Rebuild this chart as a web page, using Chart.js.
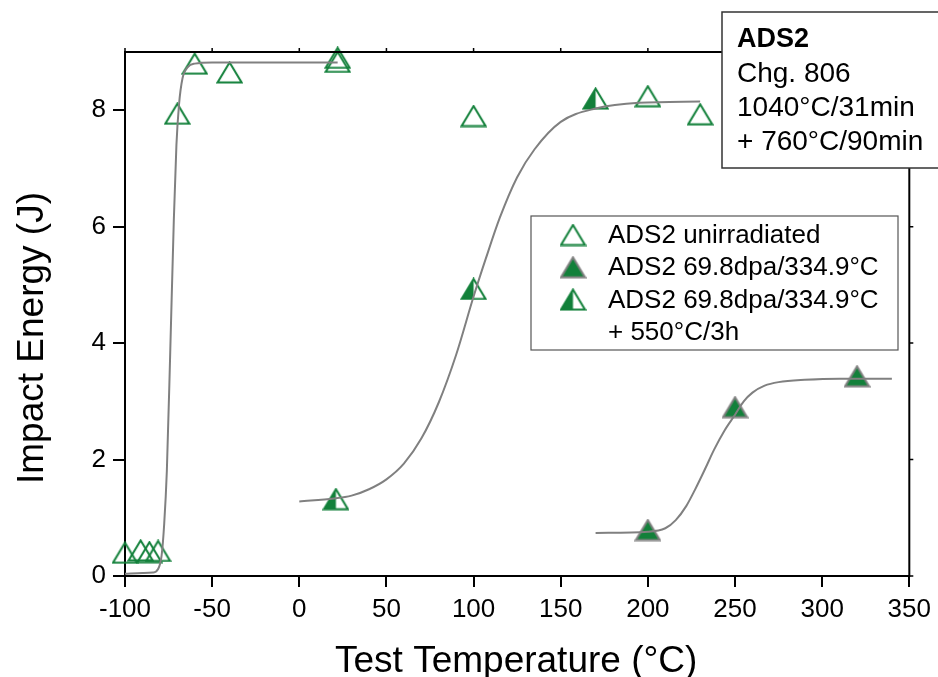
<!DOCTYPE html>
<html>
<head>
<meta charset="utf-8">
<script src="https://cdn.jsdelivr.net/npm/chart.js@4"></script>
<style>
  html, body { margin: 0; padding: 0; background: #fff; }
</style>
</head>
<body>
<canvas id="chart" width="938" height="677"></canvas>
<script>
// measured points (°C, J)
const unirrTemp = [-100, -91, -86, -81, -70, -60, -40, 22, 22, 100, 200, 230];
const unirrEnergy = [0.40, 0.44, 0.41, 0.43, 7.94, 8.8, 8.65, 8.9, 8.83, 7.9, 8.24, 7.93];

const irrTemp = [200, 250, 320];
const irrEnergy = [0.79, 2.9, 3.43];

const annealTemp = [21, 100, 170];
const annealEnergy = [1.32, 4.93, 8.2];

// fit curves
const fitUnirrTemp = [-100, -90, -84, -81, -79, -77.5, -76, -74, -72, -70.5, -69, -67, -64, -60, -50, -20, 22];
const fitUnirrEnergy = [0.04, 0.05, 0.06, 0.12, 0.35, 0.9, 1.8, 3.9, 6.1, 7.4, 8.1, 8.55, 8.74, 8.8, 8.82, 8.82, 8.82];

const fitAnnealTemp = [0, 20, 30, 40, 50, 60, 70, 80, 90, 100, 107, 115, 125, 135, 150, 170, 195, 230];
const fitAnnealEnergy = [1.28, 1.33, 1.38, 1.49, 1.66, 1.93, 2.36, 2.98, 3.8, 4.8, 5.45, 6.15, 6.85, 7.33, 7.8, 8.03, 8.13, 8.15];

const fitIrrTemp = [170, 200, 210, 216, 222, 227, 233, 238, 244, 250, 255, 260, 267, 275, 290, 310, 340];
const fitIrrEnergy = [0.74, 0.76, 0.82, 0.96, 1.2, 1.48, 1.85, 2.17, 2.5, 2.77, 3.0, 3.15, 3.27, 3.33, 3.37, 3.39, 3.39];

const seriesNames = [
  ["ADS2 unirradiated"],
  ["ADS2 69.8dpa/334.9°C"],
  ["ADS2 69.8dpa/334.9°C", "+ 550°C/3h"],
];
const noteLines = ["ADS2", "Chg. 806", "1040°C/31min", "+ 760°C/90min"];
const xTitle = "Test Temperature (°C)";
const yTitle = "Impact Energy (J)";

const GREEN = "#12803a";
const FIT_GRAY = "#808080";
const FONT = "'Liberation Sans', Arial, sans-serif";

function pairs(xs, ys) {
  return xs.map((x, i) => ({ x: x, y: ys[i] }));
}

function makeTriangle(kind) {
  const w = 27, h = 23;
  const c = document.createElement("canvas");
  c.width = w;
  c.height = h;
  const g = c.getContext("2d");
  const top = 1.5, base = h - 1.5, l = 1.5, r = w - 1.5, mid = w / 2;
  const outline = () => {
    g.beginPath();
    g.moveTo(mid, top);
    g.lineTo(r, base);
    g.lineTo(l, base);
    g.closePath();
  };
  if (kind === "filled") {
    outline();
    g.fillStyle = GREEN;
    g.fill();
    g.strokeStyle = FIT_GRAY;
    g.lineWidth = 2;
    g.stroke();
  } else if (kind === "half") {
    outline();
    g.fillStyle = "#fff";
    g.fill();
    g.beginPath();
    g.moveTo(mid, top);
    g.lineTo(mid, base);
    g.lineTo(l, base);
    g.closePath();
    g.fillStyle = GREEN;
    g.fill();
    outline();
    g.strokeStyle = GREEN;
    g.lineWidth = 2;
    g.stroke();
  } else {
    outline();
    g.strokeStyle = GREEN;
    g.lineWidth = 2;
    g.stroke();
  }
  return c;
}

const openTri = makeTriangle("open");
const filledTri = makeTriangle("filled");
const halfTri = makeTriangle("half");
const legendIcons = [openTri, filledTri, halfTri];

function fitLine(xs, ys) {
  return {
    data: pairs(xs, ys),
    showLine: true,
    borderColor: FIT_GRAY,
    borderWidth: 2,
    pointRadius: 0,
    cubicInterpolationMode: "monotone",
    order: 0,
  };
}

function markers(xs, ys, icon, name) {
  return {
    label: name.join(" "),
    data: pairs(xs, ys),
    pointStyle: icon,
    pointRadius: 12,
    order: 1,
    clip: false,
  };
}

// top/right frame with small outer ticks, plus axis titles
const framePlugin = {
  id: "frame",
  afterDraw(chart) {
    const { ctx, chartArea: a, scales } = chart;
    ctx.save();
    ctx.strokeStyle = "#000";
    ctx.lineWidth = 2;
    ctx.beginPath();
    ctx.moveTo(a.left - 1, a.top);
    ctx.lineTo(a.right, a.top);
    ctx.lineTo(a.right, a.bottom + 1);
    ctx.stroke();
    ctx.lineWidth = 1.5;
    ctx.beginPath();
    scales.x.ticks.forEach((t) => {
      const px = scales.x.getPixelForValue(t.value);
      ctx.moveTo(px, a.top);
      ctx.lineTo(px, a.top - 4);
    });
    scales.y.ticks.forEach((t) => {
      const py = scales.y.getPixelForValue(t.value);
      ctx.moveTo(a.right, py);
      ctx.lineTo(a.right + 4, py);
    });
    ctx.stroke();

    ctx.fillStyle = "#000";
    ctx.font = "37px " + FONT;
    ctx.textAlign = "center";
    ctx.textBaseline = "alphabetic";
    ctx.fillText(xTitle, (a.left + a.right) / 2 - 1, 672);
    ctx.translate(43, 338);
    ctx.rotate(-Math.PI / 2);
    ctx.fillText(yTitle, 0, 0);
    ctx.restore();
  },
};

const legendPlugin = {
  id: "boxLegend",
  afterDraw(chart) {
    const { ctx } = chart;
    const x0 = 531, y0 = 216, x1 = 898, y1 = 350;
    ctx.save();
    ctx.fillStyle = "#fff";
    ctx.fillRect(x0, y0, x1 - x0, y1 - y0);
    ctx.strokeStyle = "#555";
    ctx.lineWidth = 1.2;
    ctx.strokeRect(x0, y0, x1 - x0, y1 - y0);
    ctx.font = "26px " + FONT;
    ctx.fillStyle = "#000";
    ctx.textBaseline = "middle";
    let y = 235;
    seriesNames.forEach((lines, i) => {
      const icon = legendIcons[i];
      ctx.drawImage(icon, 573 - icon.width / 2, y - icon.height / 2);
      lines.forEach((line) => {
        ctx.fillText(line, 608, y + 1);
        y += 32.3;
      });
    });
    ctx.restore();
  },
};

const notePlugin = {
  id: "note",
  afterDraw(chart) {
    const { ctx } = chart;
    ctx.save();
    ctx.fillStyle = "#fff";
    ctx.fillRect(722, 12, 230, 156);
    ctx.strokeStyle = "#333";
    ctx.lineWidth = 1.5;
    ctx.strokeRect(722, 12, 230, 156);
    ctx.fillStyle = "#000";
    ctx.textBaseline = "middle";
    noteLines.forEach((line, i) => {
      ctx.font = (i === 0 ? "bold 27px " : "28px ") + FONT;
      ctx.fillText(line, 737, 40 + i * 34);
    });
    ctx.restore();
  },
};

const ctx = document.getElementById("chart");

new Chart(ctx, {
  type: "scatter",
  data: {
    datasets: [
      fitLine(fitUnirrTemp, fitUnirrEnergy),
      fitLine(fitAnnealTemp, fitAnnealEnergy),
      fitLine(fitIrrTemp, fitIrrEnergy),
      markers(unirrTemp, unirrEnergy, openTri, seriesNames[0]),
      markers(irrTemp, irrEnergy, filledTri, seriesNames[1]),
      markers(annealTemp, annealEnergy, halfTri, seriesNames[2]),
    ],
  },
  options: {
    responsive: false,
    animation: false,
    events: [],
    layout: {
      padding: { top: 52, right: 26, left: 0, bottom: 0 },
    },
    plugins: {
      legend: { display: false },
      tooltip: { enabled: false },
    },
    scales: {
      x: {
        type: "linear",
        min: -100,
        max: 350,
        afterFit(s) {
          s.height = 101;
        },
        border: { display: true, color: "#000", width: 2 },
        grid: {
          drawOnChartArea: false,
          drawTicks: true,
          tickLength: 11,
          tickColor: "#000",
          lineWidth: 2,
        },
        ticks: {
          stepSize: 50,
          color: "#000",
          padding: 7,
          maxRotation: 0,
          font: { family: FONT, size: 26 },
        },
      },
      y: {
        min: 0,
        max: 9,
        afterFit(s) {
          s.width = 125;
        },
        afterBuildTicks(s) {
          s.ticks = s.ticks.filter((t) => t.value % 2 === 0);
        },
        border: { display: true, color: "#000", width: 2 },
        grid: {
          drawOnChartArea: false,
          drawTicks: true,
          tickLength: 12,
          tickColor: "#000",
          lineWidth: 2,
        },
        ticks: {
          stepSize: 2,
          color: "#000",
          padding: 7,
          font: { family: FONT, size: 26 },
        },
      },
    },
  },
  plugins: [framePlugin, legendPlugin, notePlugin],
});
</script>
</body>
</html>
